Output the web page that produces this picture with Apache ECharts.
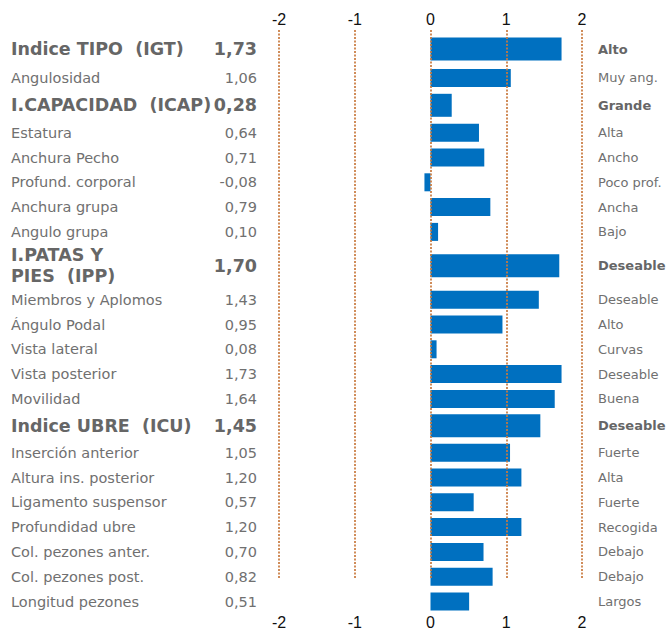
<!DOCTYPE html>
<html>
<head>
<meta charset="utf-8">
<script src="https://cdn.jsdelivr.net/npm/echarts@6/dist/echarts.min.js"></script>
<style>html,body{margin:0;padding:0;background:#fff}#c{width:667px;height:630px}</style>
</head>
<body>
<div id="c"></div>
<script>
// ---- data ----
const traitNames = [
  'Indice TIPO  (IGT)', 'Angulosidad', 'I.CAPACIDAD  (ICAP)', 'Estatura', 'Anchura Pecho',
  'Profund. corporal', 'Anchura grupa', 'Angulo grupa', 'I.PATAS Y\nPIES  (IPP)', 'Miembros y Aplomos',
  'Ángulo Podal', 'Vista lateral', 'Vista posterior', 'Movilidad', 'Indice UBRE  (ICU)',
  'Inserción anterior', 'Altura ins. posterior', 'Ligamento suspensor', 'Profundidad ubre',
  'Col. pezones anter.', 'Col. pezones post.', 'Longitud pezones'
];
const traitValues = [
  1.73, 1.06, 0.28, 0.64, 0.71, -0.08, 0.79, 0.10, 1.70, 1.43,
  0.95, 0.08, 1.73, 1.64, 1.45, 1.05, 1.20, 0.57, 1.20, 0.70, 0.82, 0.51
];
const ratingLabels = [
  'Alto', 'Muy ang.', 'Grande', 'Alta', 'Ancho', 'Poco prof.', 'Ancha', 'Bajo', 'Deseable', 'Deseable',
  'Alto', 'Curvas', 'Deseable', 'Buena', 'Deseable', 'Fuerte', 'Alta', 'Fuerte', 'Recogida',
  'Debajo', 'Debajo', 'Largos'
];
// 1 = index (section) row, 0 = individual trait
const sectionRow = [1,0,1,0,0,0,0,0,1,0,0,0,0,0,1,0,0,0,0,0,0,0];
const xTickValues = [-2, -1, 0, 1, 2];

// ---- layout (not data) ----
const rowHeights = [33,24.8,30,24.8,24.8,24.8,24.8,24.8,43,24.8,24.8,24.8,24.8,24.8,29,24.8,24.8,24.8,24.8,24.8,24.8,24.8];
const totalH = rowHeights.reduce((a, b) => a + b, 0);
const rowCenters = [];
let acc = 0;
rowHeights.forEach(h => { rowCenters.push(acc + h / 2); acc += h; });

const fmt = v => v.toFixed(2).replace('.', ',');

const barData = traitValues.map((v, i) => [v, rowCenters[i], sectionRow[i]]);
const labelData = traitNames.map((n, i) => [0, rowCenters[i], sectionRow[i], i]);

const chart = echarts.init(document.getElementById('c'), null, { renderer: 'svg' });
const GRID_TOP = 32.5;
const axisFont = { color: '#111', fontSize: 16, fontFamily: 'Liberation Sans Narrow, Liberation Sans, sans-serif' };

chart.setOption({
  animation: false,
  backgroundColor: '#fff',
  grid: [
    { left: 279, right: 85, top: 30, bottom: 52, outerBoundsMode: 'none', containLabel: false },
    { left: 279, right: 85, top: GRID_TOP, height: totalH, outerBoundsMode: 'none', containLabel: false }
  ],
  xAxis: [
    {
      gridIndex: 0, type: 'value', min: xTickValues[0], max: xTickValues[xTickValues.length - 1], interval: 1,
      position: 'top', z: 5,
      axisLine: { show: false }, axisTick: { show: false },
      axisLabel: Object.assign({ margin: 3 }, axisFont),
      splitLine: { show: true, lineStyle: { color: 'rgba(200,120,60,0.85)', type: [2, 1.5], width: 2 } }
    },
    {
      gridIndex: 1, type: 'value', min: xTickValues[0], max: xTickValues[xTickValues.length - 1], interval: 1,
      position: 'bottom',
      axisLine: { show: false }, axisTick: { show: false },
      axisLabel: Object.assign({ margin: 1 }, axisFont),
      splitLine: { show: false }
    }
  ],
  yAxis: [
    { gridIndex: 0, type: 'value', show: false, min: 0, max: 1, splitLine: { show: false } },
    { gridIndex: 1, type: 'value', show: false, min: 0, max: totalH, inverse: true, splitLine: { show: false } }
  ],
  series: [
    {
      type: 'custom', name: 'valor', xAxisIndex: 1, yAxisIndex: 1, z: 2,
      data: barData,
      encode: { x: 0, y: 1 },
      renderItem(params, api) {
        const v = api.value(0), c = api.value(1), sec = api.value(2);
        const h = sec ? 23 : 18;
        const p0 = api.coord([0, c]);
        const p1 = api.coord([v, c]);
        return {
          type: 'rect',
          shape: { x: Math.min(p0[0], p1[0]), y: p0[1] - h / 2, width: Math.abs(p1[0] - p0[0]), height: h },
          style: { fill: '#0070C0' }
        };
      }
    },
    {
      type: 'custom', name: 'labels', xAxisIndex: 1, yAxisIndex: 1, z: 3, clip: false,
      data: labelData,
      encode: { x: 0, y: 1 },
      renderItem(params, api) {
        const c = api.value(1), sec = api.value(2), i = api.value(3);
        const y = api.coord([0, c])[1];
        const family = 'DejaVu Sans, Verdana, sans-serif';
        const nameStyle = sec
          ? { fontSize: 17.5, fontWeight: 'bold', fill: '#666666', lineHeight: 21 }
          : { fontSize: 14.5, fontWeight: 'normal', fill: '#707070' };
        return {
          type: 'group',
          children: [
            { type: 'text', x: 11, y: y, style: Object.assign({ text: traitNames[i], fontFamily: family, align: 'left', verticalAlign: 'middle' }, nameStyle) },
            { type: 'text', x: 257, y: y, style: Object.assign({ text: fmt(traitValues[i]), fontFamily: family, align: 'right', verticalAlign: 'middle' }, nameStyle) },
            { type: 'text', x: 598, y: y, style: { text: ratingLabels[i], fontFamily: family, align: 'left', verticalAlign: 'middle', fontSize: 13, fontWeight: sec ? 'bold' : 'normal', fill: sec ? '#666666' : '#707070' } }
          ]
        };
      }
    }
  ]
});
</script>
</body>
</html>
